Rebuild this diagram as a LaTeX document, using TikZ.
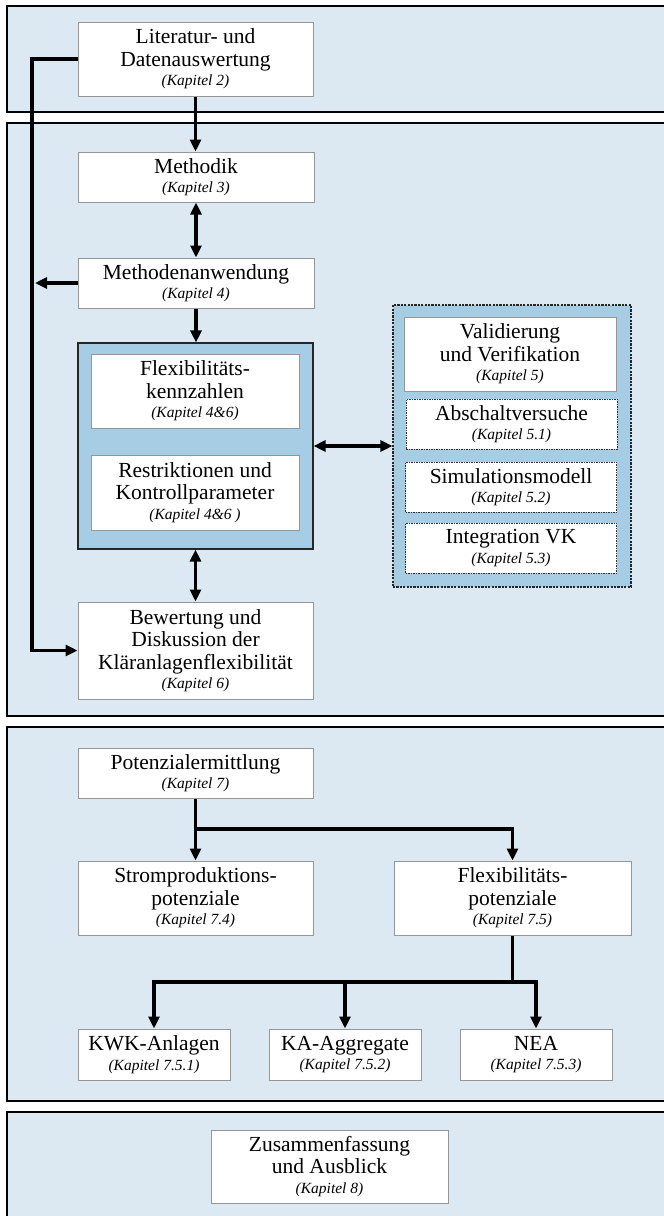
\documentclass[tikz,border=0pt]{standalone}
\usepackage{fontspec}
\setmainfont{Liberation Serif}
\usetikzlibrary{arrows.meta}
\definecolor{panelblue}{RGB}{221,233,242}
\definecolor{groupblue}{RGB}{166,205,227}
\definecolor{boxgray}{RGB}{150,150,150}
\newcommand{\kap}[1]{{\fontsize{15.5}{16}\selectfont\itshape(Kapitel #1)}}
\begin{document}
\begin{tikzpicture}[x=1pt,y=-1pt,
  panel/.style={draw=black, line width=2.6pt, fill=panelblue},
  box/.style={draw=boxgray, line width=1pt, fill=white, align=center,
    inner sep=0pt, font=\fontsize{21.5}{22.5}\selectfont},
  dbox/.style={box, draw=black!80, dash pattern=on 1.5pt off 1pt, line width=0.8pt},
  group/.style={draw=black!85, line width=1.1pt, fill=groupblue, inner sep=0pt},
  tip/.tip={Triangle[length=12pt,width=11pt]},
  link/.style={line width=3.2pt, -tip},
  dlink/.style={line width=3.2pt, tip-tip}
]
\clip (0,0) rectangle (664,1216);

% section panels (running off the right edge)
\draw[panel] (7,6) rectangle (700,112);
\draw[panel] (7,123) rectangle (700,716);
\draw[panel] (7,727) rectangle (700,1101);
\draw[panel] (7,1112) rectangle (700,1260);

% section 1 and 2
\node[box, minimum width=235pt, minimum height=74pt] (lit) at (195.5,59)
  {Literatur- und\\Datenauswertung\\[-3pt]\kap{2}};
\node[box, minimum width=236pt, minimum height=50pt] (meth) at (196,177)
  {Methodik\\[-3pt]\kap{3}};
\node[box, minimum width=236pt, minimum height=50pt] (anw) at (196,283)
  {Methodenanwendung\\[-3pt]\kap{4}};

\node[group, minimum width=235pt, minimum height=206pt] (fgrp) at (195.5,446) {};
\node[box, minimum width=208pt, minimum height=74pt] (kenn) at (195,391)
  {Flexibilitäts-\\kennzahlen\\[-3pt]\kap{4\&6}};
\node[box, minimum width=208pt, minimum height=75pt] (restr) at (195,492.5)
  {Restriktionen und\\Kontrollparameter\\[-3pt]\kap{4\&6\ }};

\node[box, minimum width=235pt, minimum height=97pt] (bew) at (195.5,650.5)
  {Bewertung und\\Diskussion der\\Kläranlagenflexibilität\\[-3pt]\kap{6}};

\node[group, dash pattern=on 2.2pt off 1.2pt, minimum width=238pt, minimum height=282pt] (vgrp) at (512,446) {};
\node[box, minimum width=212pt, minimum height=74pt] (valid) at (510,354)
  {Validierung\\und Verifikation\\[-3pt]\kap{5}};
\node[dbox, minimum width=211pt, minimum height=50pt] (absch) at (511.5,424)
  {Abschaltversuche\\[-3pt]\kap{5.1}};
\node[dbox, minimum width=211pt, minimum height=50pt] (sim) at (511,487)
  {Simulationsmodell\\[-3pt]\kap{5.2}};
\node[dbox, minimum width=211pt, minimum height=50pt] (integ) at (511,548)
  {Integration VK\\[-3pt]\kap{5.3}};

% section 3
\node[box, minimum width=235pt, minimum height=50pt] (pot) at (195.5,773)
  {Potenzialermittlung\\[-3pt]\kap{7}};
\node[box, minimum width=235pt, minimum height=74pt] (strom) at (195.5,898)
  {Stromproduktions-\\potenziale\\[-3pt]\kap{7.4}};
\node[box, minimum width=237pt, minimum height=74pt] (fpot) at (512.5,898)
  {Flexibilitäts-\\potenziale\\[-3pt]\kap{7.5}};
\node[box, minimum width=152pt, minimum height=51pt] (kwk) at (154,1054.5)
  {KWK-Anlagen\\[-3pt]\kap{7.5.1}};
\node[box, minimum width=152pt, minimum height=51pt] (ka) at (345,1054.5)
  {KA-Aggregate\\[-3pt]\kap{7.5.2}};
\node[box, minimum width=152pt, minimum height=51pt] (nea) at (536,1054.5)
  {NEA\\[-3pt]\kap{7.5.3}};

% section 4
\node[box, minimum width=237pt, minimum height=73pt] (zus) at (329.5,1166.5)
  {Zusammenfassung\\und Ausblick\\[-3pt]\kap{8}};

% connectors
\coordinate (rail) at (32,0);
\coordinate (railstop) at (35,0);
\coordinate (split) at (0,829);
\coordinate (bus) at (0,982);

\draw[link] (lit.south) -- (lit.south |- meth.north);
\draw[dlink] (meth.south) -- (meth.south |- anw.north);
\draw[link] (anw.south) -- (anw.south |- fgrp.north);
\draw[dlink] (fgrp.south) -- (fgrp.south |- bew.north);
\draw[link] (lit.west) -- (rail |- lit.west) -- (rail |- bew.west) -- (bew.west);
\draw[link] (anw.west) -- (railstop |- anw.west);
\draw[dlink] (fgrp.east) -- (vgrp.west);

\draw[link] (pot.south) -- (pot.south |- strom.north);
\draw[link] (pot.south |- split) -- (fpot.north |- split) -- (fpot.north);
\draw[link] (fpot.south) -- (fpot.south |- bus) -- (kwk.north |- bus) -- (kwk.north);
\draw[link] (fpot.south |- bus) -- (nea.north |- bus) -- (nea.north);
\draw[link] (ka.north |- bus) -- (ka.north);
\end{tikzpicture}
\end{document}
